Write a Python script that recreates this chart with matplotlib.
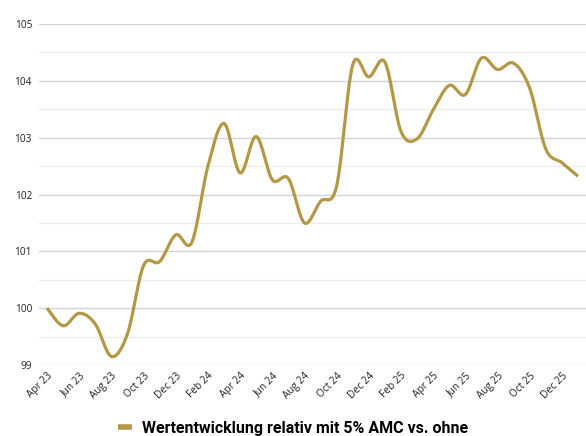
import matplotlib
matplotlib.use("Agg")
import matplotlib.pyplot as plt
from matplotlib.lines import Line2D
import numpy as np

months = ["Apr 23", "May 23", "Jun 23", "Jul 23", "Aug 23", "Sep 23", "Oct 23", "Nov 23",
          "Dec 23", "Jan 24", "Feb 24", "Mar 24", "Apr 24", "May 24", "Jun 24", "Jul 24",
          "Aug 24", "Sep 24", "Oct 24", "Nov 24", "Dec 24", "Jan 25", "Feb 25", "Mar 25",
          "Apr 25", "May 25", "Jun 25", "Jul 25", "Aug 25", "Sep 25", "Oct 25", "Nov 25",
          "Dec 25", "Jan 26"]
values = [100.0, 99.69, 99.91, 99.72, 99.15, 99.55, 100.75, 100.82,
          101.29, 101.16, 102.5, 103.25, 102.38, 103.02, 102.26, 102.28,
          101.5, 101.88, 102.15, 104.28, 104.07, 104.33, 103.11, 102.98,
          103.49, 103.92, 103.76, 104.4, 104.2, 104.31, 103.87, 102.8,
          102.56, 102.32]
series_label = "Wertentwicklung relativ mit 5% AMC vs. ohne"
gold = "#B59846"


def smooth(x, y, n=30):
    # bezier smoothing through the points, like a spreadsheet "smoothed line"
    x = np.asarray(x, float)
    y = np.asarray(y, float)
    px = np.concatenate([[x[0]], x, [x[-1]]])
    py = np.concatenate([[y[0]], y, [y[-1]]])
    t = np.linspace(0, 1, n)
    xs, ys = [], []
    for i in range(1, len(px) - 2):
        p0 = np.array([px[i], py[i]])
        p3 = np.array([px[i + 1], py[i + 1]])
        p1 = p0 + (p3 - np.array([px[i - 1], py[i - 1]])) / 6
        p2 = p3 - (np.array([px[i + 2], py[i + 2]]) - p0) / 6
        b = ((1 - t) ** 3)[:, None] * p0 + (3 * (1 - t) ** 2 * t)[:, None] * p1 \
            + (3 * (1 - t) * t ** 2)[:, None] * p2 + (t ** 3)[:, None] * p3
        xs.append(b[:, 0])
        ys.append(b[:, 1])
    return np.concatenate(xs), np.concatenate(ys)


fig = plt.figure(figsize=(5.86, 4.36), dpi=100)
ax = fig.add_axes([39 / 586, 1 - 365 / 436, 1 - 39 / 586, (365 - 24) / 436])

idx = np.arange(len(months))
sx, sy = smooth(idx, values)
ax.plot(sx, sy, color=gold, linewidth=2.3, solid_capstyle="butt", zorder=3)

ax.set_xlim(-0.5, len(months) - 0.5)
ax.set_ylim(99, 105)
ax.set_yticks(range(99, 106))
ax.set_yticks(np.arange(99.5, 105, 1), minor=True)
ax.grid(which="major", axis="y", color="#d4d4d4", linewidth=1.0)
ax.grid(which="minor", axis="y", color="#ededed", linewidth=1.0)
ax.set_axisbelow(True)

ax.set_xticks(idx[::2])
ax.set_xticklabels(months[::2], rotation=45, ha="right", va="top",
                   rotation_mode="anchor", fontsize=7.3, family="Open Sans", color="#222222")
for lab in ax.get_yticklabels():
    lab.set_family("Open Sans")
    lab.set_fontsize(7.3)
    lab.set_color("#222222")
ax.tick_params(axis="both", which="both", length=0)
ax.tick_params(axis="y", pad=5)
ax.tick_params(axis="x", pad=4)
for s in ax.spines.values():
    s.set_visible(False)

handle = Line2D([0], [0], color=gold, linewidth=4, solid_capstyle="butt")
fig.legend(handles=[handle], labels=[series_label], loc="center",
           bbox_to_anchor=(0.5, 1 - 428 / 436), frameon=False,
           handlelength=0.9, handletextpad=0.6,
           prop={"family": "Roboto", "weight": "bold", "size": 11.5})

plt.savefig("out.png", dpi=100)
